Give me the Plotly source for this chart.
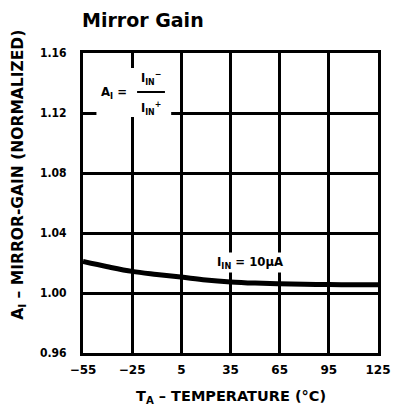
import plotly.graph_objects as go

temps = [-55, -40, -25, -10, 5, 20, 35, 50, 65, 80, 95, 110, 125]
gain = [1.0210, 1.0175, 1.0144, 1.0124, 1.0106, 1.0087, 1.0074, 1.0066, 1.0061, 1.0058, 1.0056, 1.0055, 1.0055]
x_ticks = [-55, -25, 5, 35, 65, 95, 125]
x_tick_labels = ["−55", "−25", "5", "35", "65", "95", "125"]
y_ticks = [0.96, 1.00, 1.04, 1.08, 1.12, 1.16]
y_tick_labels = ["0.96", "1.00", "1.04", "1.08", "1.12", "1.16"]

font_family = "DejaVu Sans, Liberation Sans, Arial, sans-serif"
cond_family = "DejaVu Sans Condensed, DejaVu Sans, Arial, sans-serif"

W, H = 394, 412

fig = go.Figure()
fig.add_trace(go.Scatter(x=temps, y=gain, mode="lines",
                         line=dict(color="black", width=5, shape="spline"),
                         showlegend=False, hoverinfo="skip"))

fig.update_layout(
    width=W, height=H,
    margin=dict(l=75, r=11, t=45, b=67),
    paper_bgcolor="white", plot_bgcolor="white",
    font=dict(family=font_family, color="black", size=12),
    title=dict(text="<b>Mirror Gain</b>", x=74 / W, xanchor="left", y=1 - 12 / H, yanchor="middle",
               font=dict(size=19, family=font_family)),
)
fig.update_xaxes(range=[-55, 125], tickvals=x_ticks, ticktext=x_tick_labels,
                 showgrid=True, gridcolor="black", gridwidth=2.5,
                 showline=True, linecolor="black", linewidth=3, mirror=True,
                 zeroline=False, ticks="", ticklabelstandoff=4,
                 tickfont=dict(size=12, family=font_family, weight="bold"))
fig.update_yaxes(range=[0.96, 1.16], tickvals=y_ticks, ticktext=y_tick_labels,
                 showgrid=True, gridcolor="black", gridwidth=2.5,
                 showline=True, linecolor="black", linewidth=3, mirror=True,
                 zeroline=False, ticks="", ticklabelstandoff=11,
                 tickfont=dict(size=12, family=cond_family, weight="bold"))

# axis titles (positions given in screen pixels relative to plot area)
fig.add_annotation(xref="paper", yref="paper", x=(16 - 83) / 308, y=(353 - 175) / 300,
                   xanchor="center", yanchor="middle",
                   text="<b>A<sub>I</sub> – MIRROR-GAIN (NORMALIZED)</b>", textangle=-90,
                   showarrow=False, font=dict(size=15.5, family=font_family))
fig.add_annotation(xref="paper", yref="paper", x=(238 - 83) / 308, y=(353 - 397) / 300,
                   xanchor="center", yanchor="middle",
                   text="<b>T<sub>A</sub> – TEMPERATURE (°C)</b>",
                   showarrow=False, font=dict(size=14.5, family=font_family))

# formula box with white background
fig.add_shape(type="rect", xref="x", yref="y", x0=-46.8, x1=-1.2, y0=1.1173, y1=1.150,
              fillcolor="white", line=dict(width=0), layer="above")
fig.add_annotation(x=-36.3, y=1.134, xref="x", yref="y", text="<b>A<sub>I</sub> =</b>",
                   xanchor="center", yanchor="middle",
                   showarrow=False, font=dict(size=13, family=cond_family))
fig.add_annotation(x=-13.5, y=1.1433, xref="x", yref="y", text="<b>I<sub>IN</sub><sup>−</sup></b>",
                   xanchor="center", yanchor="middle",
                   showarrow=False, font=dict(size=12.5, family=cond_family))
fig.add_shape(type="line", xref="x", yref="y", x0=-22, x1=-5, y0=1.134, y1=1.134,
              line=dict(color="black", width=2), layer="above")
fig.add_annotation(x=-13.5, y=1.1235, xref="x", yref="y", text="<b>I<sub>IN</sub><sup>+</sup></b>",
                   xanchor="center", yanchor="middle",
                   showarrow=False, font=dict(size=12.5, family=cond_family))

fig.add_annotation(x=47, y=1.0205, xref="x", yref="y", text="<b>I<sub>IN</sub> = 10µA</b>",
                   xanchor="center", yanchor="middle",
                   showarrow=False, bgcolor="white", font=dict(size=13, family=cond_family))

fig.write_html("out.html")
